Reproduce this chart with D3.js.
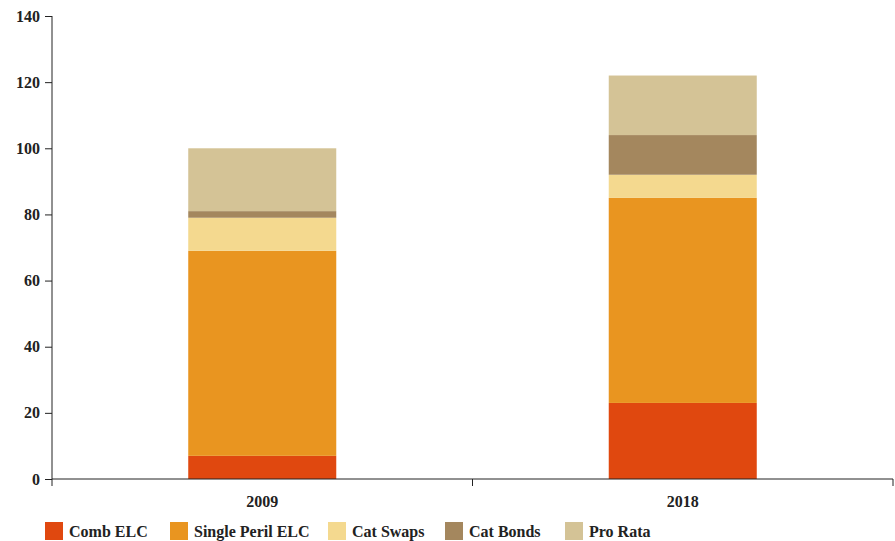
<!DOCTYPE html>
<html>
<head>
<meta charset="utf-8">
<script src="https://cdn.jsdelivr.net/npm/d3@7"></script>
<style>
  body { margin: 0; background: #fff; }
  text { font-family: "Liberation Serif", "DejaVu Serif", serif; }
</style>
</head>
<body>
<svg id="chart" width="895" height="541"></svg>
<script>
const years = ["2009", "2018"]
const series = ["Comb ELC", "Single Peril ELC", "Cat Swaps", "Cat Bonds", "Pro Rata"]
const combELC = [7, 23]
const singlePerilELC = [62, 62]
const catSwaps = [10, 7]
const catBonds = [2, 12]
const proRata = [19, 18]
const yTicks = [0, 20, 40, 60, 80, 100, 120, 140]
const colors = ["#e0480f", "#e99520", "#f4d98f", "#a4875e", "#d4c396"]

const margin = { top: 16, right: 2, bottom: 62, left: 52 }
const width = 895 - margin.left - margin.right
const height = 541 - margin.top - margin.bottom

const rows = years.map((y, i) => ({
  year: y,
  "Comb ELC": combELC[i],
  "Single Peril ELC": singlePerilELC[i],
  "Cat Swaps": catSwaps[i],
  "Cat Bonds": catBonds[i],
  "Pro Rata": proRata[i]
}))
const stacked = d3.stack().keys(series)(rows)

const svg = d3.select("#chart")
  .append("g")
    .attr("transform", "translate(" + margin.left + "," + margin.top + ")")

const xScale = d3.scaleBand().domain(years).range([0, width])
const yScale = d3.scaleLinear().domain([0, 140]).range([height, 0])
const color = d3.scaleOrdinal().domain(series).range(colors)
const barW = xScale.bandwidth() * 0.352

svg.selectAll("g.layer")
  .data(stacked)
  .enter()
  .append("g")
    .attr("class", "layer")
    .attr("fill", d => color(d.key))
  .selectAll("rect")
  .data(d => d)
  .enter()
  .append("rect")
    .attr("x", d => xScale(d.data.year) + (xScale.bandwidth() - barW) / 2)
    .attr("width", barW)
    .attr("y", d => yScale(d[1]))
    .attr("height", d => yScale(d[0]) - yScale(d[1]))

// y axis
const yAxis = svg.append("g")
  .call(d3.axisLeft(yScale).tickValues(yTicks).tickSize(7).tickPadding(5))
yAxis.select(".domain").attr("d", "M0," + yScale(140) + "V" + height).attr("stroke", "#222")
yAxis.selectAll(".tick line").attr("stroke", "#222")
yAxis.selectAll("text")
  .attr("font-size", 16).attr("font-weight", "bold").attr("fill", "#222")
  .style("font-family", '"Liberation Serif", serif')

// x axis with ticks at category boundaries
const xAxis = svg.append("g").attr("transform", "translate(0," + height + ")")
xAxis.append("line")
  .attr("x1", 0).attr("x2", width).attr("stroke", "#222")
xAxis.selectAll("line.tk")
  .data([0, 1, 2])
  .enter()
  .append("line")
    .attr("class", "tk")
    .attr("x1", d => d * xScale.step()).attr("x2", d => d * xScale.step())
    .attr("y1", 0).attr("y2", 7).attr("stroke", "#222")
xAxis.selectAll("text")
  .data(years)
  .enter()
  .append("text")
    .attr("x", d => xScale(d) + xScale.bandwidth() / 2)
    .attr("y", 28)
    .attr("text-anchor", "middle")
    .attr("font-size", 16).attr("font-weight", "bold").attr("fill", "#222")
    .text(d => d)

// legend
const legendX = [45, 170, 328, 445, 565]
const legend = d3.select("#chart").append("g")
  .selectAll("g")
  .data(series)
  .enter()
  .append("g")
    .attr("transform", (d, i) => "translate(" + legendX[i] + ",522)")
legend.append("rect")
  .attr("width", 18).attr("height", 18)
  .attr("fill", d => color(d))
legend.append("text")
  .attr("x", 24).attr("y", 15)
  .attr("font-size", 16).attr("font-weight", "bold").attr("fill", "#222")
  .text(d => d)
</script>
</body>
</html>
